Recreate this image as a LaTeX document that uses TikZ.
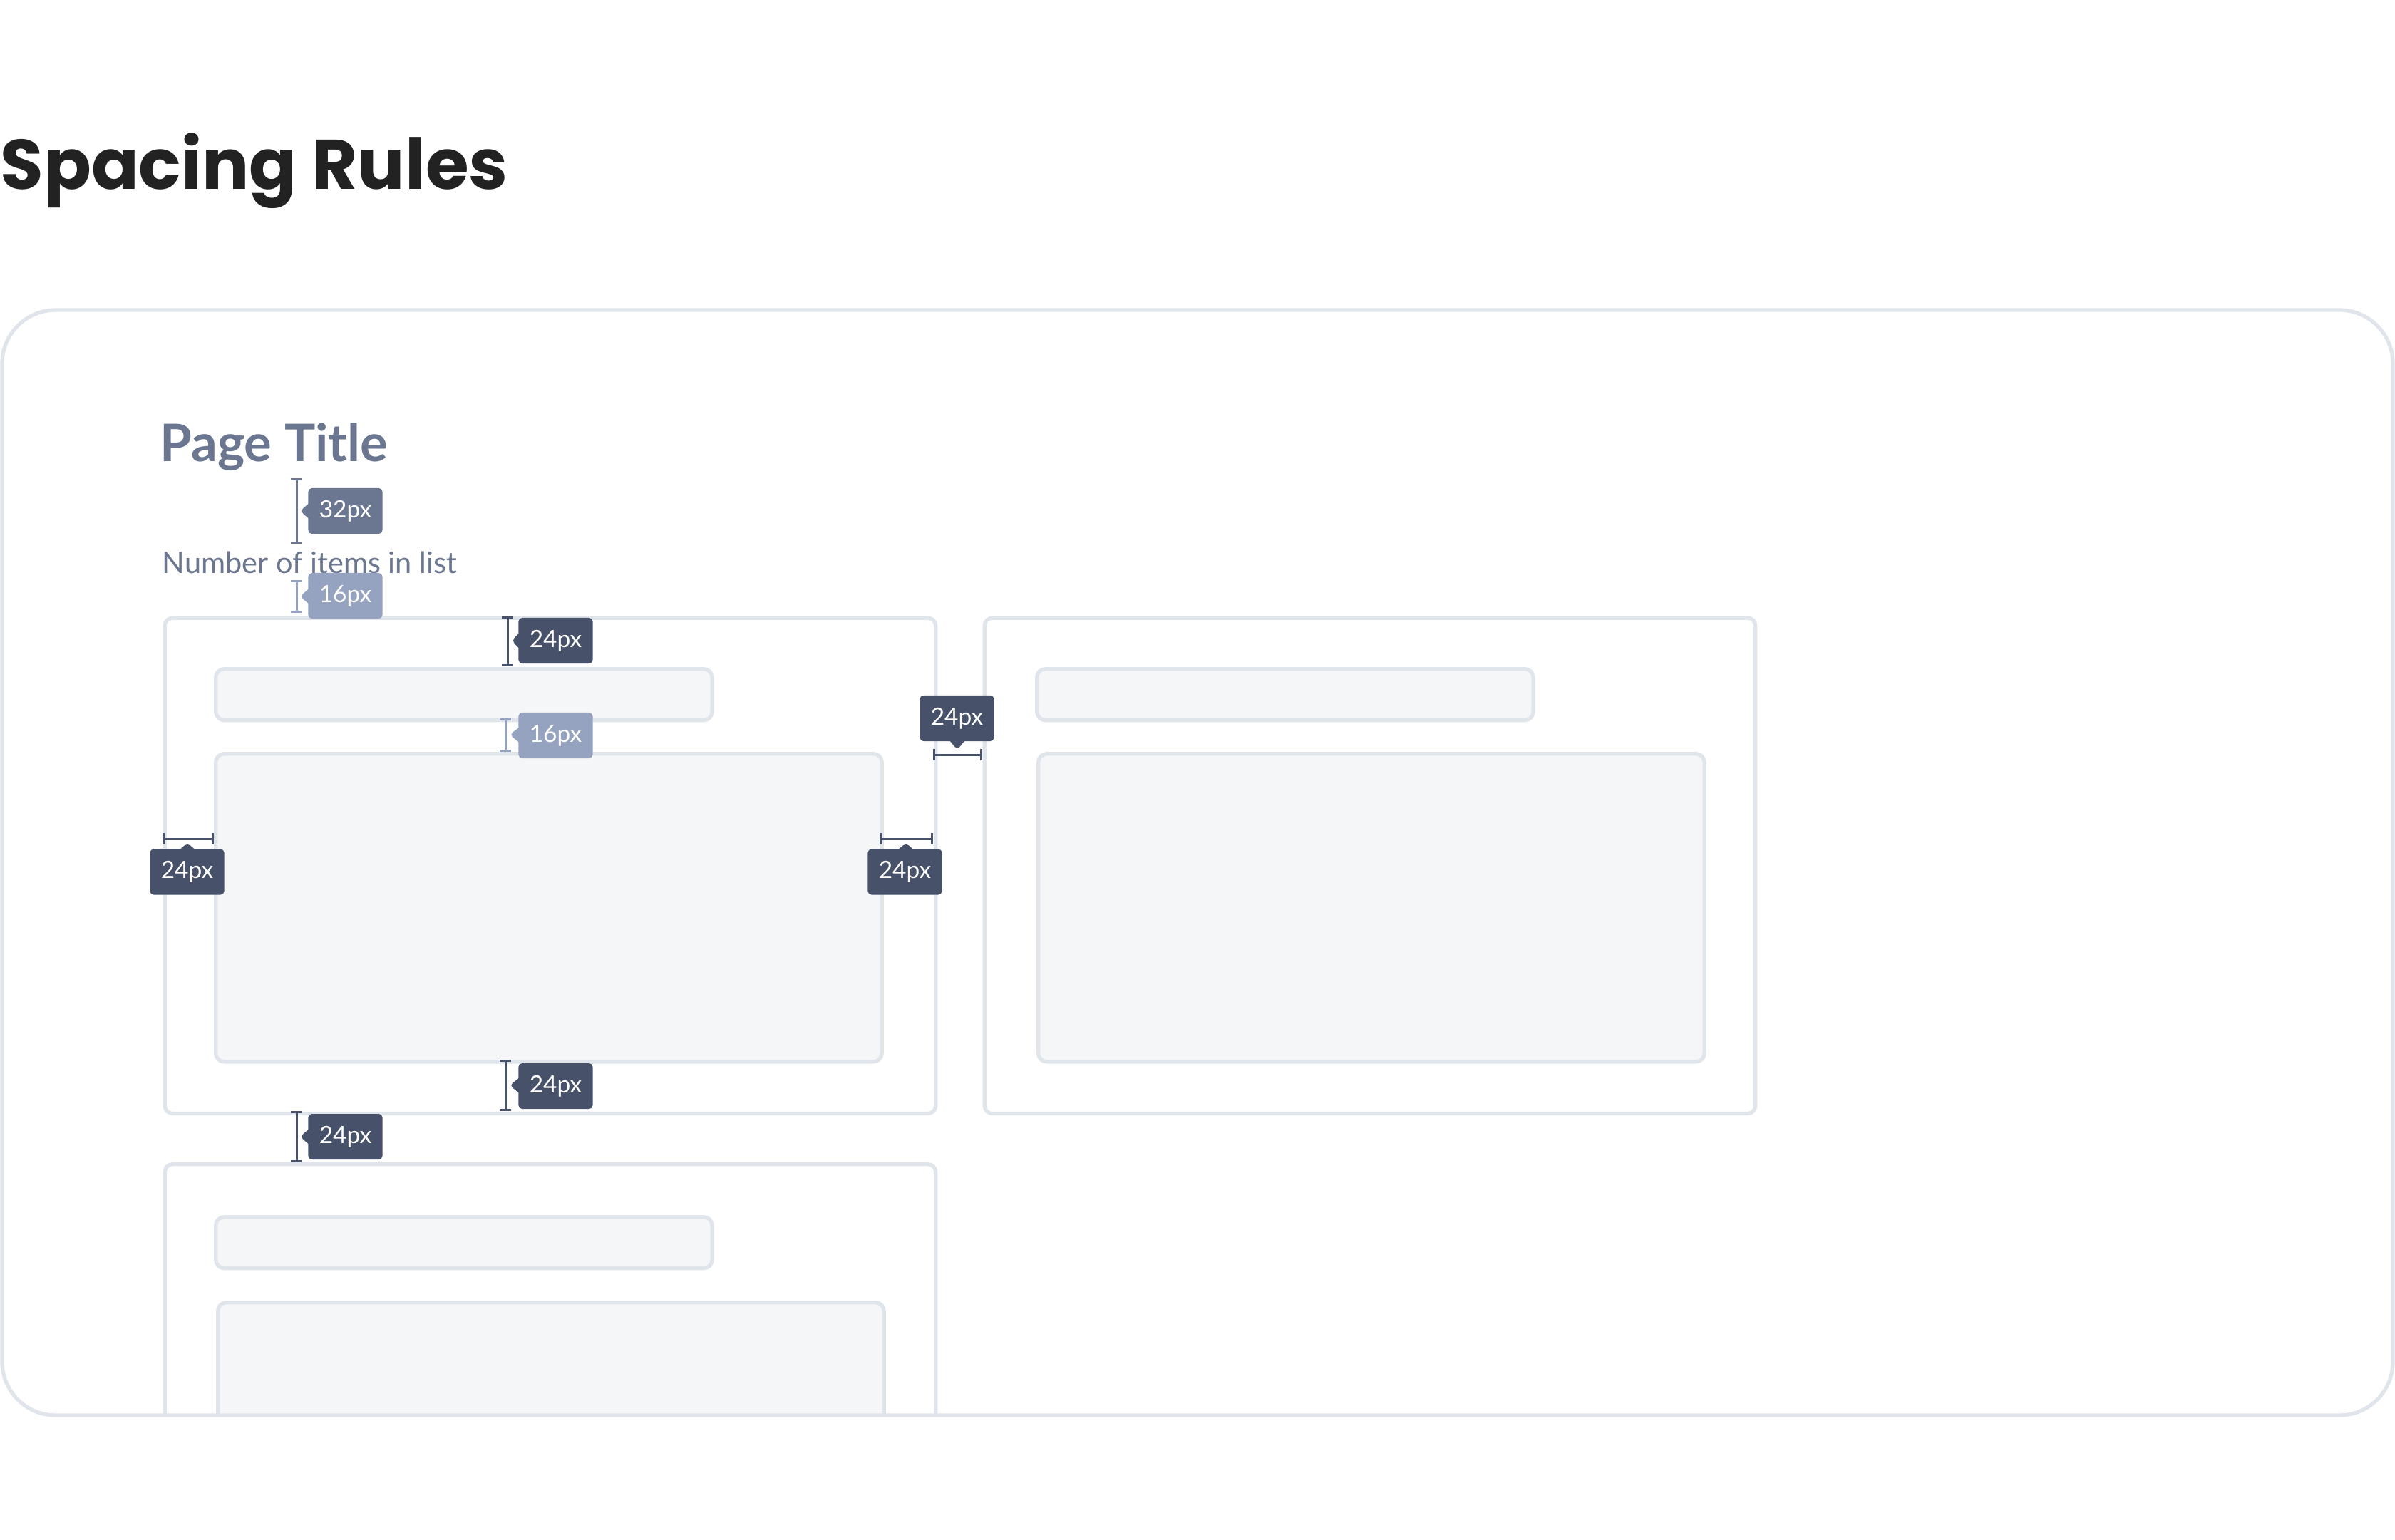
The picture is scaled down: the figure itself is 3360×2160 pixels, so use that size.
\documentclass[tikz,border=0pt]{standalone}
\usepackage{fontspec}
\setmainfont{Lato}
\newfontfamily\headfont{Poppins}
\usetikzlibrary{positioning,arrows.meta,shapes.callouts}
\definecolor{ink}{RGB}{34,34,34}
\definecolor{rule}{RGB}{224,228,235}
\definecolor{shade}{RGB}{245,246,248}
\definecolor{slate}{RGB}{107,118,144}
\definecolor{navy}{RGB}{71,81,105}
\definecolor{pale}{RGB}{149,163,192}
\tikzset{
  frame/.style={draw=rule, line width=0.053cm, rounded corners=0.75cm},
  card/.style={draw=rule, line width=0.053cm, rounded corners=0.11cm, fill=white,
              anchor=north west, inner sep=0pt},
  slot/.style={card, fill=shade, rounded corners=0.12cm},
  gap/.style={draw=#1, line width=0.03cm, {Bar[width=0.16cm]}-{Bar[width=0.16cm]}},
  tag/.style={rectangle callout, fill=#1, rounded corners=0.05cm, text=white,
              font=\fontsize{9.5}{11}\selectfont, minimum width=1.04cm,
              minimum height=0.64cm, inner sep=0pt, callout pointer width=0.2cm},
}

\begin{document}
\begin{tikzpicture}[x=0.01cm, y=-0.01cm]
  \useasboundingbox (0,0) rectangle (3360,2160);

  \node[anchor=base west, inner sep=0pt, text=ink, font=\headfont\bfseries\fontsize{28}{31}\selectfont]
    (head) at (0,265) {Spacing Rules};

  \node[anchor=base west, inner sep=0pt, text=slate, font=\bfseries\fontsize{20.6}{24}\selectfont]
    (ptitle) at (224,647) {Page Title};
  \node[anchor=base west, inner sep=0pt, text=slate, font=\fontsize{11.8}{14}\selectfont]
    (count) at (227,804) {Number of items in list};

  % first row
  \node[card, minimum width=10.81cm, minimum height=6.95cm] (card1) at (228.5,864.5) {};
  \node[slot, minimum width=6.96cm, minimum height=0.72cm] (bar1) at (300,936) {};
  \node[slot, minimum width=9.34cm, minimum height=4.32cm] (body1) at (300,1055) {};

  \node[card, minimum width=10.81cm, minimum height=6.95cm] (card2) at (1378.5,864.5) {};
  \node[slot, minimum width=6.96cm, minimum height=0.72cm] (bar2) at (1452,936) {};
  \node[slot, minimum width=9.34cm, minimum height=4.32cm] (body2) at (1454,1055) {};

  % second row, cut by the frame
  \begin{scope}
    \clip (0,435) rectangle (3360,1986);
    \node[card, minimum width=10.81cm, minimum height=5cm] (card3) at (228.5,1631) {};
    \node[slot, minimum width=6.96cm, minimum height=0.72cm] (bar3) at (300,1705) {};
    \node[slot, minimum width=9.34cm, minimum height=4cm] (body3) at (303,1825) {};
  \end{scope}

  % measures
  \draw[gap=slate] (416,671) -- (416,763);
  \node[tag=slate, callout absolute pointer={(421,717)}] (t32) at (484.5,717) {32px};
  \draw[gap=pale] (416,814) -- (416,860);
  \node[tag=pale, callout absolute pointer={(421,837)}] (t16a) at (484.5,836) {16px};

  \draw[gap=navy] (712,865) -- (712,935);
  \node[tag=navy, callout absolute pointer={(718,899)}] (t24a) at (779.5,899) {24px};
  \draw[gap=pale] (709,1008) -- (709,1055);
  \node[tag=pale, callout absolute pointer={(715,1031)}] (t16b) at (779.5,1032) {16px};
  \draw[gap=navy] (709,1487) -- (709,1559);
  \node[tag=navy, callout absolute pointer={(715,1523)}] (t24b) at (779.5,1524) {24px};

  \draw[gap=navy] (228,1177) -- (300,1177);
  \node[tag=navy, callout absolute pointer={(263,1183)}] (t24l) at (262.5,1223.5) {24px};
  \draw[gap=navy] (1234,1177) -- (1309,1177);
  \node[tag=navy, callout absolute pointer={(1271,1183)}] (t24r) at (1269.5,1223.5) {24px};

  \draw[gap=navy] (1309,1059) -- (1378,1059);
  \node[tag=navy, callout absolute pointer={(1343,1052)}] (t24c) at (1342.5,1008) {24px};
  \draw[gap=navy] (416,1559) -- (416,1631);
  \node[tag=navy, callout absolute pointer={(421,1595)}] (t24d) at (484.5,1595) {24px};

  \draw[frame] (3,435) rectangle (3357,1986);
\end{tikzpicture}
\end{document}
